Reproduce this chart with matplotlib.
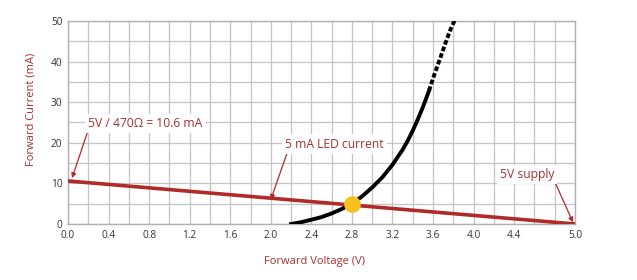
import numpy as np
import matplotlib.pyplot as plt

plt.rcParams['font.family'] = ['Open Sans', 'DejaVu Sans']

# LED forward curve
led_v_solid = [2.2, 2.3, 2.4, 2.5, 2.6, 2.7, 2.8, 2.9, 3.0, 3.1, 3.2, 3.3, 3.35, 3.4, 3.45, 3.5, 3.56]
led_i_solid = [0.0, 0.45, 1.05, 1.7, 2.6, 3.7, 5.0, 6.8, 9.0, 11.5, 14.6, 18.3, 20.5, 23.0, 25.8, 28.8, 32.8]
led_v_dash = [3.56, 3.61, 3.67, 3.72, 3.77, 3.82]
led_i_dash = [32.8, 36.6, 40.8, 44.4, 47.8, 50.5]

# load line for 5 V through 470 ohm
load_v = [0.0, 5.0]
load_i = [10.6, 0.0]

op_v = 2.8
op_i = 5.0

xticks = [0.0, 0.4, 0.8, 1.2, 1.6, 2.0, 2.4, 2.8, 3.2, 3.6, 4.0, 4.4, 5.0]
yticks = [0, 10, 20, 30, 40, 50]

red = '#b02a2a'
txt_red = '#a5302e'

fig = plt.figure(figsize=(6.37, 2.8), dpi=100)
ax = fig.add_axes([0.1067, 0.2, 0.796, 0.725])

ax.set_xlim(0, 5)
ax.set_ylim(0, 50)
ax.set_xticks(np.arange(0, 5.01, 0.2), minor=True)
ax.set_yticks(np.arange(0, 50.1, 5), minor=True)
ax.set_xticks(xticks)
ax.set_yticks(yticks)
ax.set_xticklabels(['%.1f' % v for v in xticks])
ax.grid(True, which='both', color='#c4c4c4', lw=0.9)
ax.set_axisbelow(True)
ax.tick_params(which='both', length=0, labelsize=7.3, colors='#333333', pad=4)
for s in ax.spines.values():
    s.set_color('#b0b0b0')
    s.set_linewidth(1)

ax.plot(load_v, load_i, color=red, lw=2.6, solid_capstyle='butt', zorder=3)
ax.plot(led_v_solid, led_i_solid, color='black', lw=2.8, zorder=4)
ax.plot(led_v_dash, led_i_dash, color='black', lw=2.8, ls=(0, (1.2, 0.6)), zorder=4)
ax.plot([op_v], [op_i], 'o', color='#f7c21e', ms=11, zorder=5)

box = dict(boxstyle='square,pad=0.25', fc='white', ec='none')
arrow = dict(arrowstyle='-|>', color=red, lw=0.9, mutation_scale=7, shrinkA=0, shrinkB=0)
ax.annotate('5V / 470Ω = 10.6 mA', xy=(0.04, 11.3), xytext=(0.2, 24.8),
            fontsize=8.7, color=txt_red, va='center', ha='left', bbox=box,
            arrowprops=dict(arrow, relpos=(0.0, 0.0)), zorder=6)
ax.annotate('5 mA LED current', xy=(2.0, 6.0), xytext=(2.14, 19.7),
            fontsize=8.7, color=txt_red, va='center', ha='left', bbox=box,
            arrowprops=dict(arrow, relpos=(0.03, 0.0)), zorder=6)
ax.annotate('5V supply', xy=(4.98, 0.4), xytext=(4.26, 12.2),
            fontsize=8.7, color=txt_red, va='center', ha='left', bbox=box,
            arrowprops=dict(arrow, relpos=(1.0, 0.0)), zorder=6)

ax.set_xlabel('Forward Voltage (V)', fontsize=8, color=txt_red)
ax.set_ylabel('Forward Current (mA)', fontsize=8, color=txt_red)
ax.xaxis.set_label_coords(0.487, -0.16)
ax.yaxis.set_label_coords(-0.062, 0.567)

fig.savefig('out.png', dpi=100)
